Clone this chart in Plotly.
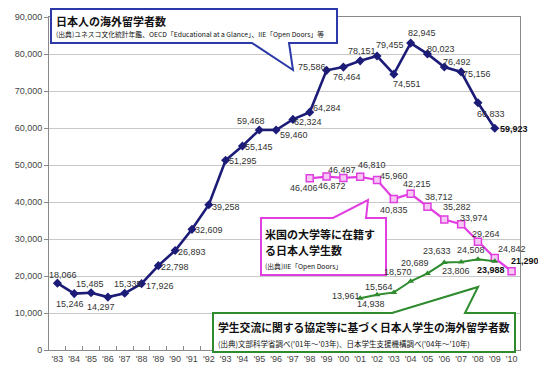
import plotly.graph_objects as go

years = ["'83", "'84", "'85", "'86", "'87", "'88", "'89", "'90", "'91", "'92",
         "'93", "'94", "'95", "'96", "'97", "'98", "'99", "'00", "'01", "'02",
         "'03", "'04", "'05", "'06", "'07", "'08", "'09", "'10"]

# Japanese students studying abroad ('83 - '09)
overseas_years = years[:27]
overseas = [18066, 15246, 15485, 14297, 15335, 17926, 22798, 26893, 32609, 39258,
            51295, 55145, 59468, 59460, 62324, 64284, 75586, 76464, 78151, 79455,
            74551, 82945, 80023, 76492, 75156, 66833, 59923]

# Japanese students enrolled in US universities ('98 - '10)
us_years = years[15:]
us_students = [46406, 46872, 46497, 46810, 45960, 40835, 42215, 38712, 35282,
               33974, 29264, 24842, 21290]

# Students abroad under exchange agreements ('01 - '09)
ex_years = years[18:27]
exchange = [13961, 14938, 15564, 18570, 20689, 23633, 23806, 24508, 23988]

y_ticks = [0, 10000, 20000, 30000, 40000, 50000, 60000, 70000, 80000, 90000]

# label offsets in pixels (style only): (dx, dy), dy positive = down
blue_off = [(6, -8), (-4, 10), (-1, -9), (-7, 10), (3, -9), (18, 2), (17, 1), (17, 1),
            (17, 1), (17, 2), (17, 1), (17, 1), (-8, -9), (18, 5), (15, 3), (17, -4),
            (-15, -3), (4, 10), (2, -10), (13, -11), (13, 10), (11, -10), (14, -5),
            (13, -5), (16, 2), (13, 11), (19, 1)]
pink_off = [(-6, 10), (5, 9), (-1, -8), (12, -12), (17, -4), (0, 11), (6, -10),
            (12, -10), (13, -12), (13, -6), (8, -8), (17, -9), (13, -10)]
green_off = [(-14, -2), (-6, 9), (-15, -5), (-13, -9), (-12, -10), (-7, -12),
             (-5, 9), (-7, -9), (-4, 9)]

NUM_FONT = "Liberation Sans, Arial, sans-serif"
JP_FONT = "Noto Sans CJK JP, Noto Sans CJK SC, sans-serif"

fig = go.Figure()

fig.add_trace(go.Scatter(
    x=overseas_years, y=overseas, mode="lines+markers",
    line=dict(color="#1c1c78", width=2.6),
    marker=dict(symbol="diamond", size=7, color="#1c1c78"),
    cliponaxis=False, showlegend=False))

fig.add_trace(go.Scatter(
    x=us_years, y=us_students, mode="lines+markers",
    line=dict(color="#e03ee0", width=2.2),
    marker=dict(symbol="square", size=7, color="#f6c8f6",
                line=dict(color="#e03ee0", width=1.5)),
    cliponaxis=False, showlegend=False))

fig.add_trace(go.Scatter(
    x=ex_years, y=exchange, mode="lines+markers",
    line=dict(color="#2e8b2e", width=2),
    marker=dict(symbol="triangle-up", size=6, color="#2e8b2e"),
    cliponaxis=False, showlegend=False))

anns = []


def data_labels(xs, vals, offs):
    for i, (x, v, (dx, dy)) in enumerate(zip(xs, vals, offs)):
        last = i == len(vals) - 1
        txt = f"{v:,}"
        anns.append(dict(
            x=x, y=v, xref="x", yref="y", showarrow=False,
            text=f"<b>{txt}</b>" if last else txt,
            xanchor="center", yanchor="middle", xshift=dx, yshift=-dy,
            font=dict(family=NUM_FONT, size=9,
                      color="#111111" if last else "#333333")))


data_labels(overseas_years, overseas, blue_off)
data_labels(us_years, us_students, pink_off)
data_labels(ex_years, exchange, green_off)

# plot frame in pixels (for converting callout geometry)
L, R, T, B = 49, 520, 17, 350


def px(x, y):
    return (x - L) / (R - L), (B - y) / (B - T)


def path(points):
    parts = []
    for i, (x, y) in enumerate(points):
        a, b = px(x, y)
        parts.append(("M" if i == 0 else "L") + f"{a:.5f},{b:.5f}")
    return " ".join(parts) + " Z"


shapes = [
    dict(type="path", xref="paper", yref="paper", layer="above",
         path=path([(51, 9), (337, 9), (337, 43), (289, 43), (293, 70), (252, 43), (51, 43)]),
         line=dict(color="#2b3aa8", width=2), fillcolor="white"),
    dict(type="path", xref="paper", yref="paper", layer="above",
         path=path([(261, 218), (333, 218), (368, 200), (366, 218), (386, 218), (386, 275), (261, 275)]),
         line=dict(color="#e03ee0", width=2), fillcolor="white"),
    dict(type="path", xref="paper", yref="paper", layer="above",
         path=path([(213, 313), (392, 313), (478, 287), (465, 313), (515, 313), (515, 352), (213, 352)]),
         line=dict(color="#2e8b2e", width=2), fillcolor="white"),
]


def note(x, y, text, size, bold=False):
    a, b = px(x, y)
    anns.append(dict(xref="paper", yref="paper", x=a, y=b, xanchor="left", yanchor="middle",
                     text=f"<b>{text}</b>" if bold else text, showarrow=False,
                     font=dict(family=JP_FONT, size=size, color="#111111")))


note(54, 21, "日本人の海外留学者数", 11, True)
note(54, 34, "(出典)ユネスコ文化統計年鑑、OECD「Educational at a Glance」、IIE「Open Doors」等", 6.8)
note(263, 234, "米国の大学等に在籍す", 11, True)
note(263, 250, "る日本人学生数", 11, True)
note(263, 266, "(出典)IIE「Open Doors」", 6.8)
note(216, 327, "学生交流に関する協定等に基づく日本人学生の海外留学者数", 10.8, True)
note(216, 343, "(出典)文部科学省調べ('01年～'03年)、日本学生支援機構調べ('04年～'10年)", 7.5)

fig.update_layout(
    width=538, height=376,
    margin=dict(l=L, r=538 - R, t=T, b=376 - B),
    paper_bgcolor="white", plot_bgcolor="white",
    shapes=shapes, annotations=anns,
    xaxis=dict(type="category", categoryorder="array", categoryarray=years,
               range=[-0.5, len(years) - 0.5], tickangle=0,
               showline=True, linecolor="#8a8a8a", linewidth=1, mirror=True,
               ticks="inside", ticklen=4, tickcolor="#8a8a8a", tickson="boundaries",
               showgrid=False,
               tickfont=dict(family=NUM_FONT, size=9, color="#444444")),
    yaxis=dict(range=[0, 90000], tickvals=y_ticks, tickformat=",",
               showline=True, linecolor="#8a8a8a", linewidth=1, mirror=True,
               ticks="outside", ticklen=4, tickcolor="#8a8a8a",
               showgrid=True, gridcolor="#c8c8c8", gridwidth=1, zeroline=False,
               tickfont=dict(family=NUM_FONT, size=9, color="#444444")),
)

fig.write_html("out.html")
